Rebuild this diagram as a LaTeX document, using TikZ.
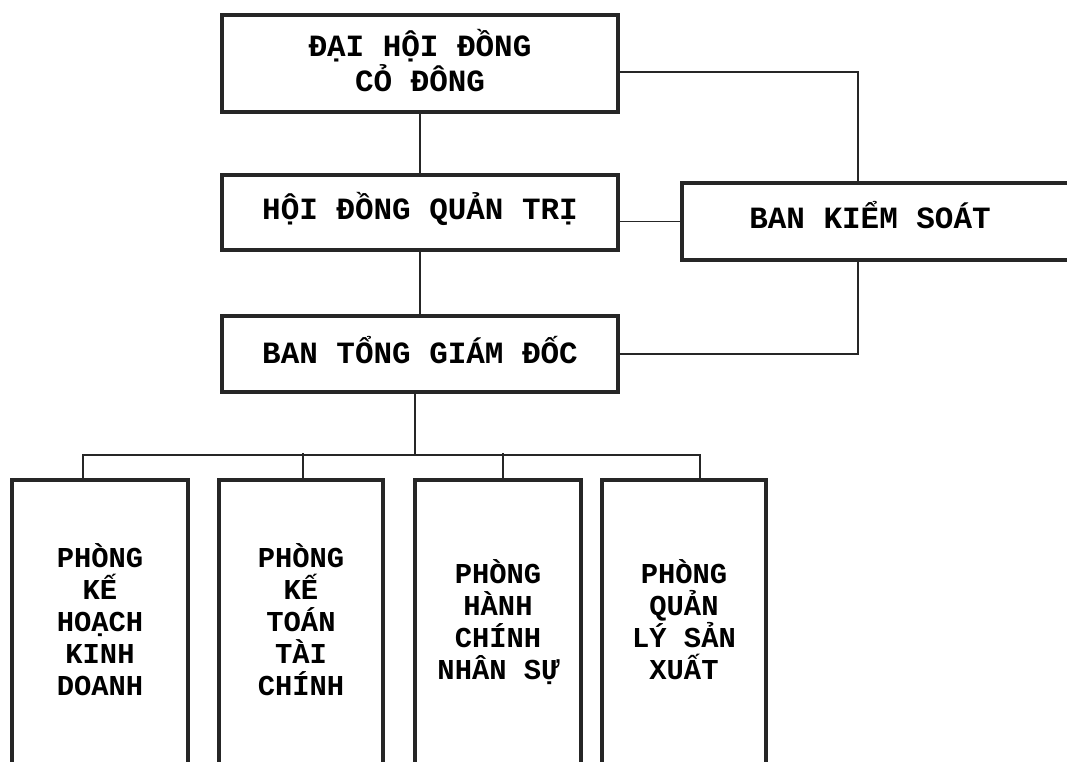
\documentclass[tikz,border=0pt]{standalone}
\usepackage{fontspec}
\newfontfamily\orgfont{Liberation Mono}
\usepackage{tikz}
\newcommand\tightlines{\setlength{\lineskiplimit}{-20pt}}
\tikzset{
	box/.style 2 args={draw=black!85,line width=2.4pt,minimum width=#1,minimum height=#2,inner sep=0pt,align=center,text height=0.6cm,text depth=0.25cm,font=\orgfont\bfseries\fontsize{22}{24.2}\selectfont\tightlines},
	dept/.style 2 args={draw=black!85,line width=2.4pt,minimum width=#1,minimum height=7.15cm,inner sep=0pt,align=center,text height=#2,text depth=0.175cm,font=\orgfont\bfseries\fontsize{20.5}{22.8}\selectfont\tightlines},
	link/.style={draw=black!85,line width=1.2pt}
}

\begin{document}
\begin{tikzpicture}[x=0.025cm,y=-0.025cm]
							\useasboundingbox (0,0) rectangle (1067,762);
							\node [box={9.9cm}{2.425cm},text height=1.5cm,text depth=0.125cm] (dhcd) at (420,63.5) {ĐẠI HỘI ĐỒNG\\CỎ ĐÔNG};
							\node [box={9.9cm}{1.875cm}] (hdqt) at (420,212.5) {HỘI ĐỒNG QUẢN TRỊ};
							\node [box={9.9cm}{1.9cm},text depth=0.125cm] (btgd) at (420,354) {BAN TỔNG GIÁM ĐỐC};
							\node [box={9.9cm}{1.925cm}] (bks) at (880,221.5) {\hspace*{-0.5cm}BAN KIỂM SOÁT};

							\draw [link] (dhcd) -- (hdqt);
							\draw [link] (hdqt) -- (btgd);
							\draw [link] ([yshift=-0.21cm]dhcd.east) -| ([xshift=-0.55cm]bks.north);
							\draw [link] (hdqt.east |- bks.west) -- (bks.west);
							\draw [link] ([xshift=-0.55cm]bks.south) |- (btgd.east);

							\node [dept={4.4cm}{3.8cm}] (pkh) at (100,623) {PHÒNG\\KẾ\\HOẠCH\\KINH\\DOANH};
							\node [dept={4.1cm}{3.8cm}] (pkt) at (301,623) {PHÒNG\\KẾ\\TOÁN\\TÀI\\CHÍNH};
							\node [dept={4.15cm}{3.0cm}] (phc) at (498,623) {PHÒNG\\HÀNH\\CHÍNH\\NHÂN SỰ};
							\node [dept={4.1cm}{3.0cm}] (pql) at (684,623) {PHÒNG\\QUẢN\\LÝ SẢN\\XUẤT};

							\coordinate (bus) at (415,455);
							\draw [link] ([xshift=-0.125cm]btgd.south) -- (bus);
							\draw [link] ([xshift=-0.425cm]pkh.north) |- (bus) -| ([xshift=0.4cm]pql.north);
							\draw [link] ([xshift=0.05cm]pkt.north) -- ++(0,-25);
							\draw [link] ([xshift=0.125cm]phc.north) -- ++(0,-25);
						\end{tikzpicture}
\end{document}
